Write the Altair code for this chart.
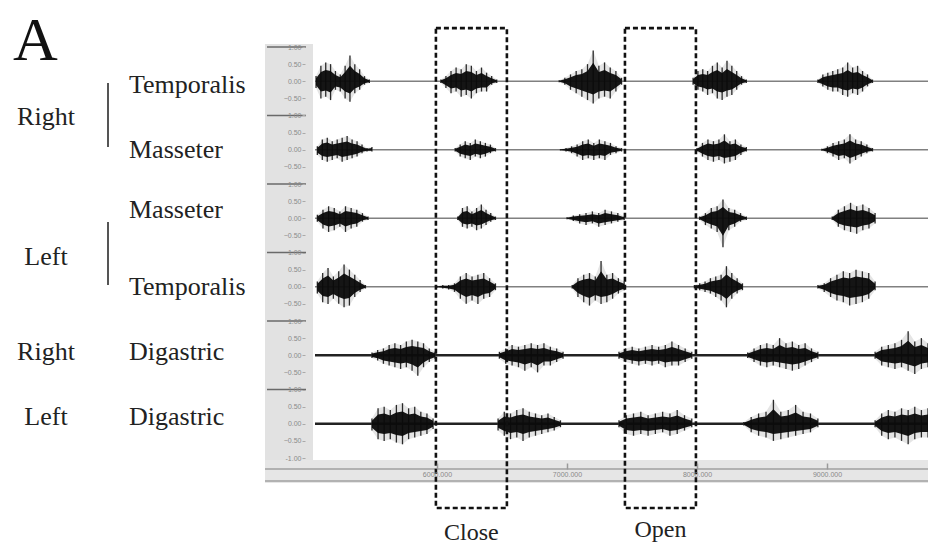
import altair as alt
import pandas as pd

# ---------------- data ----------------
T_MIN, T_MAX = 5062, 9777            # visible time window (ms)
time_ticks = [6000, 7000, 8000, 9000]

channel_names = ["R Temporalis", "R Masseter", "L Masseter",
                 "L Temporalis", "R Digastric", "L Digastric"]
channel_centers = [0, -2, -4, -6, -8, -10]   # each trace spans -1..1 around its centre

# bursts: (start ms, end ms, upper envelope, lower envelope magnitude)
r_temporalis = [
    (5070, 5480, [0.15, 0.45, 0.55, 0.5, 0.3, 0.2, 0.45, 0.75, 0.5, 0.35, 0.15, 0.05],
                 [0.2, 0.5, 0.45, 0.55, 0.25, 0.3, 0.5, 0.6, 0.35, 0.25, 0.1, 0.05]),
    (6030, 6460, [0.05, 0.15, 0.3, 0.4, 0.35, 0.5, 0.45, 0.3, 0.4, 0.25, 0.15, 0.05],
                 [0.05, 0.2, 0.35, 0.3, 0.45, 0.4, 0.5, 0.35, 0.3, 0.3, 0.1, 0.05]),
    (6940, 7420, [0.03, 0.1, 0.2, 0.3, 0.35, 0.5, 0.9, 0.45, 0.55, 0.4, 0.3, 0.1],
                 [0.03, 0.1, 0.25, 0.35, 0.45, 0.55, 0.65, 0.5, 0.45, 0.5, 0.3, 0.1]),
    (7970, 8380, [0.1, 0.3, 0.35, 0.3, 0.45, 0.55, 0.4, 0.6, 0.45, 0.3, 0.15, 0.05],
                 [0.1, 0.25, 0.3, 0.4, 0.35, 0.5, 0.55, 0.45, 0.4, 0.25, 0.1, 0.05]),
    (8930, 9350, [0.05, 0.2, 0.25, 0.3, 0.35, 0.4, 0.55, 0.4, 0.45, 0.3, 0.2, 0.05],
                 [0.05, 0.15, 0.25, 0.3, 0.3, 0.4, 0.45, 0.35, 0.4, 0.3, 0.15, 0.05]),
]
r_masseter = [
    (5080, 5500, [0.1, 0.3, 0.35, 0.25, 0.3, 0.35, 0.4, 0.3, 0.25, 0.15, 0.05, 0.08],
                 [0.15, 0.3, 0.35, 0.3, 0.25, 0.35, 0.3, 0.25, 0.2, 0.1, 0.05, 0.05]),
    (6140, 6450, [0.05, 0.15, 0.25, 0.2, 0.3, 0.25, 0.2, 0.15, 0.05],
                 [0.05, 0.2, 0.25, 0.3, 0.2, 0.25, 0.2, 0.1, 0.05]),
    (6950, 7420, [0.02, 0.05, 0.1, 0.15, 0.25, 0.3, 0.2, 0.3, 0.25, 0.2, 0.1, 0.05],
                 [0.02, 0.05, 0.1, 0.2, 0.3, 0.25, 0.3, 0.25, 0.3, 0.15, 0.1, 0.05]),
    (8000, 8380, [0.05, 0.2, 0.3, 0.25, 0.3, 0.45, 0.25, 0.3, 0.15, 0.08],
                 [0.05, 0.2, 0.3, 0.35, 0.3, 0.4, 0.35, 0.3, 0.15, 0.05]),
    (8960, 9350, [0.03, 0.1, 0.2, 0.25, 0.3, 0.45, 0.3, 0.25, 0.15, 0.05],
                 [0.03, 0.1, 0.2, 0.3, 0.25, 0.4, 0.3, 0.2, 0.1, 0.05]),
]
l_masseter = [
    (5080, 5470, [0.1, 0.25, 0.35, 0.3, 0.2, 0.35, 0.3, 0.25, 0.15, 0.05],
                 [0.1, 0.3, 0.4, 0.35, 0.25, 0.4, 0.3, 0.25, 0.1, 0.05]),
    (6160, 6450, [0.05, 0.3, 0.35, 0.2, 0.3, 0.4, 0.25, 0.15, 0.05],
                 [0.05, 0.25, 0.3, 0.25, 0.35, 0.3, 0.2, 0.1, 0.05]),
    (7000, 7440, [0.03, 0.08, 0.12, 0.15, 0.2, 0.15, 0.25, 0.2, 0.15, 0.05],
                 [0.03, 0.08, 0.15, 0.2, 0.15, 0.25, 0.2, 0.15, 0.1, 0.05]),
    (8020, 8380, [0.05, 0.15, 0.3, 0.35, 0.55, 0.3, 0.25, 0.15, 0.05],
                 [0.05, 0.2, 0.3, 0.4, 0.85, 0.35, 0.25, 0.1, 0.05]),
    (9040, 9370, [0.05, 0.25, 0.35, 0.45, 0.35, 0.4, 0.3, 0.15],
                 [0.05, 0.25, 0.35, 0.4, 0.45, 0.35, 0.3, 0.15]),
]
l_temporalis = [
    (5080, 5450, [0.15, 0.4, 0.55, 0.3, 0.45, 0.65, 0.5, 0.35, 0.2, 0.05],
                 [0.2, 0.45, 0.5, 0.35, 0.5, 0.6, 0.55, 0.3, 0.15, 0.05]),
    (6000, 6450, [0.03, 0.05, 0.05, 0.1, 0.3, 0.4, 0.3, 0.35, 0.4, 0.25, 0.1],
                 [0.03, 0.05, 0.08, 0.15, 0.35, 0.5, 0.4, 0.5, 0.35, 0.3, 0.1]),
    (7040, 7440, [0.05, 0.25, 0.35, 0.4, 0.3, 0.75, 0.35, 0.4, 0.25, 0.15],
                 [0.05, 0.3, 0.45, 0.55, 0.4, 0.5, 0.45, 0.35, 0.2, 0.1]),
    (7980, 8350, [0.05, 0.1, 0.15, 0.25, 0.3, 0.35, 0.6, 0.4, 0.25, 0.1],
                 [0.05, 0.1, 0.15, 0.2, 0.3, 0.4, 0.6, 0.35, 0.2, 0.1]),
    (8930, 9370, [0.05, 0.1, 0.25, 0.35, 0.45, 0.4, 0.5, 0.45, 0.4, 0.15],
                 [0.05, 0.15, 0.3, 0.4, 0.45, 0.55, 0.5, 0.45, 0.35, 0.1]),
]
r_digastric = [
    (5500, 5985, [0.08, 0.15, 0.2, 0.3, 0.35, 0.3, 0.4, 0.45, 0.4, 0.35, 0.2, 0.1],
                 [0.08, 0.15, 0.25, 0.3, 0.35, 0.4, 0.35, 0.45, 0.6, 0.35, 0.2, 0.1]),
    (6480, 6970, [0.1, 0.2, 0.3, 0.25, 0.3, 0.35, 0.3, 0.35, 0.25, 0.2, 0.1],
                 [0.1, 0.25, 0.3, 0.35, 0.45, 0.35, 0.5, 0.3, 0.3, 0.2, 0.1]),
    (7400, 7960, [0.1, 0.2, 0.25, 0.2, 0.25, 0.3, 0.25, 0.3, 0.4, 0.3, 0.2, 0.1],
                 [0.1, 0.2, 0.25, 0.3, 0.25, 0.3, 0.25, 0.35, 0.3, 0.3, 0.2, 0.1]),
    (8390, 8930, [0.08, 0.2, 0.3, 0.35, 0.3, 0.5, 0.35, 0.4, 0.3, 0.35, 0.2, 0.1],
                 [0.08, 0.2, 0.3, 0.35, 0.3, 0.35, 0.4, 0.45, 0.4, 0.3, 0.2, 0.1]),
    (9370, 9777, [0.1, 0.25, 0.3, 0.35, 0.45, 0.7, 0.4, 0.5, 0.35],
                 [0.1, 0.3, 0.35, 0.4, 0.35, 0.45, 0.55, 0.4, 0.35]),
]
l_digastric = [
    (5500, 5970, [0.15, 0.45, 0.5, 0.4, 0.55, 0.6, 0.45, 0.5, 0.35, 0.3, 0.15],
                 [0.2, 0.45, 0.5, 0.45, 0.55, 0.6, 0.45, 0.4, 0.35, 0.3, 0.15]),
    (6470, 6950, [0.15, 0.35, 0.3, 0.4, 0.45, 0.35, 0.3, 0.25, 0.3, 0.2, 0.1],
                 [0.2, 0.35, 0.45, 0.4, 0.5, 0.4, 0.35, 0.3, 0.25, 0.2, 0.1]),
    (7400, 7960, [0.1, 0.25, 0.3, 0.35, 0.25, 0.3, 0.35, 0.3, 0.4, 0.25, 0.15],
                 [0.1, 0.3, 0.35, 0.3, 0.35, 0.3, 0.25, 0.35, 0.3, 0.2, 0.1]),
    (8360, 8930, [0.05, 0.2, 0.3, 0.35, 0.7, 0.35, 0.4, 0.55, 0.35, 0.3, 0.15],
                 [0.05, 0.25, 0.35, 0.4, 0.5, 0.45, 0.4, 0.35, 0.3, 0.25, 0.1]),
    (9370, 9777, [0.1, 0.3, 0.4, 0.35, 0.45, 0.4, 0.5, 0.4, 0.45],
                 [0.1, 0.35, 0.45, 0.4, 0.5, 0.6, 0.45, 0.4, 0.4]),
]
all_bursts = [r_temporalis, r_masseter, l_masseter, l_temporalis, r_digastric, l_digastric]

CORE = 0.6   # share of each envelope drawn as the dense, solid core of a burst

# left-hand labels (y in the stacked trace units)
side_labels = ["Right", "Left", "Right", "Left"]
side_y = [-1.04, -5.13, -7.9, -9.8]
muscle_labels = ["Temporalis", "Masseter", "Masseter", "Temporalis", "Digastric", "Digastric"]
muscle_y = [-0.11, -2.01, -3.76, -6.01, -7.9, -9.8]
bracket_top = [-0.05, -4.11]
bracket_bottom = [-1.92, -5.95]

# dashed phase boxes
phase_names = ["Close", "Open"]
phase_start = [5992, 7446]
phase_end = [6538, 7992]
phase_label_y = [-13.18, -13.1]
BOX_TOP, BOX_BOTTOM = 1.55, -12.46

# ---------------- build tables ----------------
rows = []
for k, bursts in enumerate(all_bursts):
    c = channel_centers[k]
    for j, (t0, t1, hi, lo) in enumerate(bursts):
        n = len(hi)
        for i in range(n):
            t = t0 + (t1 - t0) * i / (n - 1)
            rows.append({"t": t, "y": c + hi[i], "y2": c - lo[i],
                         "cy": c + CORE * hi[i], "cy2": c - CORE * lo[i],
                         "burst": f"{k}-{j}", "ch": channel_names[k]})
bursts_df = pd.DataFrame(rows)

base_rows = []
for k, c in enumerate(channel_centers):
    base_rows.append({"t": T_MIN, "t2": T_MAX, "y": c,
                      "kind": "dig" if k >= 4 else "jaw"})
base_df = pd.DataFrame(base_rows)

bound_df = pd.DataFrame({"y": [1, -1, -3, -5, -7, -9]})
side_df = pd.DataFrame({"label": side_labels, "y": side_y})
muscle_df = pd.DataFrame({"label": muscle_labels, "y": muscle_y})
bracket_df = pd.DataFrame({"y": bracket_top, "y2": bracket_bottom})
phase_df = pd.DataFrame({"label": phase_names, "t": phase_start, "t2": phase_end,
                         "mid": [(a + b) / 2 for a, b in zip(phase_start, phase_end)],
                         "ly": phase_label_y, "y": [BOX_TOP] * 2, "y2": [BOX_BOTTOM] * 2})
dummy = pd.DataFrame({"a": [0]})

# ---------------- scales / axes ----------------
xscale = alt.Scale(domain=[T_MIN, T_MAX], nice=False, zero=False)
yscale = alt.Scale(domain=[-11, 1], nice=False, zero=False)
xaxis = alt.Axis(values=time_ticks, format=".3f", title=None, domain=False, grid=False,
                 offset=5, tickSize=6, tickColor="#9a9a9a", tickWidth=1.5,
                 labelFontSize=7, labelColor="#888888", labelPadding=1,
                 labelFont="Liberation Sans", zindex=2)
yvals = [v / 2 for v in range(-22, 3)]
yaxis = alt.Axis(values=yvals, title=None, domain=False, grid=False, offset=10,
                 tickSize=3, tickColor="#aaaaaa", labelFontSize=7, labelColor="#8a8a8a",
                 labelPadding=1, labelFont="Liberation Sans", zindex=2,
                 labelExpr="abs(datum.value % 2) == 1 ? (datum.value == -11 ? '-1.00' : '1.00') : "
                           "format(datum.value - 2*round(datum.value/2), '.2f')")

def X(field="t"):
    return alt.X(f"{field}:Q", scale=xscale, axis=xaxis)

def Y(field="y"):
    return alt.Y(f"{field}:Q", scale=yscale, axis=yaxis)

SERIF = "Liberation Serif"

# ---------------- layers ----------------
strip = alt.Chart(dummy).mark_rect(color="#e2e2e2").encode(
    x=alt.value(-50), x2=alt.value(-2), y=alt.value(-3), y2=alt.value(413))
band = alt.Chart(dummy).mark_rect(color="#e6e6e6").encode(
    x=alt.value(-50), x2=alt.value(613), y=alt.value(413), y2=alt.value(436))
band_line1 = alt.Chart(dummy).mark_rule(color="#a0a0a0", strokeWidth=1.5).encode(
    x=alt.value(-50), x2=alt.value(613), y=alt.value(422))
band_line2 = alt.Chart(dummy).mark_rule(color="#a0a0a0", strokeWidth=1.5).encode(
    x=alt.value(-50), x2=alt.value(613), y=alt.value(434))

bounds = alt.Chart(bound_df).mark_rule(color="#6a6a6a", strokeWidth=1.5).encode(
    x=alt.value(-48), x2=alt.value(-9), y=Y())

baseline_jaw = alt.Chart(base_df).transform_filter(alt.datum.kind == "jaw").mark_rule(
    color="#808080", strokeWidth=1.6).encode(x=X(), x2="t2:Q", y=Y())
baseline_dig = alt.Chart(base_df).transform_filter(alt.datum.kind == "dig").mark_rule(
    color="#222222", strokeWidth=2.4).encode(x=X(), x2="t2:Q", y=Y())

burst_halo = alt.Chart(bursts_df).mark_area(color="#999999", opacity=0.25).encode(
    x=X(), y=Y(), y2="y2:Q", detail="burst:N")
burst_spikes = alt.Chart(bursts_df).mark_rule(color="#2a2a2a", strokeWidth=1.3).encode(
    x=X(), y=Y(), y2="y2:Q")
burst_core = alt.Chart(bursts_df).mark_area(color="#0a0a0a", opacity=0.95).encode(
    x=X(), y=Y("cy"), y2="cy2:Q", detail="burst:N")

boxes = alt.Chart(phase_df).mark_rect(fillOpacity=0, stroke="#111111", strokeWidth=2.6,
                                      strokeDash=[5, 3]).encode(
    x=X(), x2="t2:Q", y=Y(), y2="y2:Q")
box_labels = alt.Chart(phase_df).mark_text(font=SERIF, fontSize=24, color="#222222",
                                           baseline="middle", align="center").encode(
    x=X("mid"), y=Y("ly"), text="label:N")

side_text = alt.Chart(side_df).mark_text(font=SERIF, fontSize=26, color="#222222",
                                         baseline="middle", align="center").encode(
    x=alt.value(-269), y=Y(), text="label:N")
muscle_text = alt.Chart(muscle_df).mark_text(font=SERIF, fontSize=26, color="#222222",
                                             baseline="middle", align="left").encode(
    x=alt.value(-186), y=Y(), text="label:N")
brackets = alt.Chart(bracket_df).mark_rule(color="#555555", strokeWidth=2).encode(
    x=alt.value(-207), y=Y(), y2="y2:Q")

panel_letter = alt.Chart(pd.DataFrame({"label": ["A"]})).mark_text(
    font=SERIF, fontSize=62, color="#111111", align="left", baseline="alphabetic").encode(
    x=alt.value(-302), y=alt.value(13), text="label:N")

chart = alt.layer(
    strip, band, band_line1, band_line2, bounds,
    baseline_jaw, baseline_dig, burst_halo, burst_spikes, burst_core,
    boxes, box_labels, side_text, muscle_text, brackets, panel_letter
).properties(
    width=613, height=411,
    padding={"left": 315, "top": 47, "right": 0, "bottom": 90},
    autosize=alt.AutoSizeParams(type="none"),
    background="white",
).configure_view(stroke=None)

chart.save("out.html", embed_options={"renderer": "svg", "actions": False})
